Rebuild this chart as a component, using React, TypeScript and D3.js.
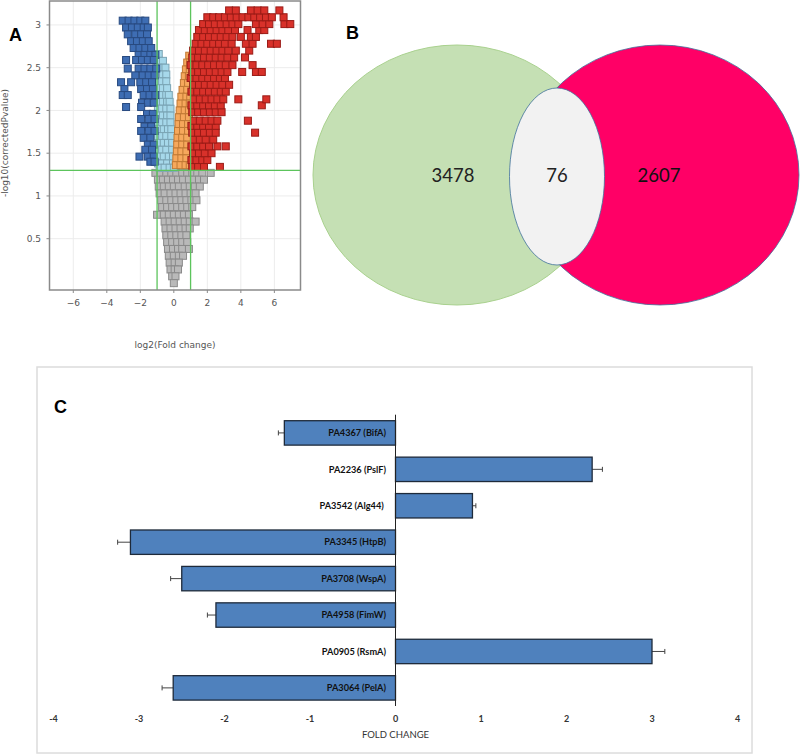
import React from "react";
import * as d3 from "d3";

// ---------- Panel A: volcano plot (hand-read rows: [-log10 p, log2 FC values]) ----------
const grayRows: [number, number[]][] = [
  [1.27, [-1.1, -0.8, -0.45, -0.15, 0.15, 0.5, 0.8, 1.1, 1.4, 1.7, 2.2]],
  [1.19, [-0.95, -0.65, -0.35, -0.05, 0.25, 0.55, 0.9, 1.2, 1.5, 1.8]],
  [1.11, [-0.9, -0.6, -0.3, 0.0, 0.3, 0.65, 0.95, 1.25, 1.55]],
  [1.03, [-0.85, -0.55, -0.2, 0.1, 0.4, 0.7, 1.0, 1.3]],
  [0.95, [-0.75, -0.45, -0.15, 0.15, 0.45, 0.75, 1.05, 1.35]],
  [0.87, [-0.7, -0.4, -0.1, 0.2, 0.5, 0.8, 1.1]],
  [0.78, [-1.0, -0.6, -0.3, 0.0, 0.3, 0.6, 0.9]],
  [0.7, [-0.55, -0.25, 0.05, 0.35, 0.65, 0.95, 1.3]],
  [0.62, [-0.5, -0.2, 0.1, 0.4, 0.7, 0.95]],
  [0.54, [-0.45, -0.15, 0.15, 0.45, 0.75]],
  [0.46, [-0.4, -0.1, 0.2, 0.5, 0.8]],
  [0.38, [-0.35, -0.05, 0.25, 0.5, 0.9]],
  [0.3, [-0.3, 0.0, 0.3, 0.55]],
  [0.22, [-0.25, 0.05, 0.3]],
  [0.14, [-0.2, 0.05, 0.25]],
  [0.06, [-0.1, 0.1]],
  [-0.02, [0.0]],
];

const lightBlueRows: [number, number[]][] = [
  [2.66, [-0.9]],
  [2.58, [-0.9, -0.65]],
  [2.5, [-0.95, -0.7, -0.5]],
  [2.42, [-0.9, -0.65, -0.45]],
  [2.34, [-0.95, -0.7, -0.45]],
  [2.26, [-0.9, -0.65, -0.4]],
  [2.18, [-0.95, -0.7, -0.45, -0.3]],
  [2.1, [-0.9, -0.65, -0.4, -0.25]],
  [2.02, [-0.95, -0.7, -0.45, -0.2]],
  [1.94, [-0.9, -0.65, -0.4, -0.2]],
  [1.86, [-0.95, -0.7, -0.45, -0.2]],
  [1.78, [-0.9, -0.6, -0.35, -0.15]],
  [1.7, [-0.95, -0.7, -0.45, -0.15]],
  [1.62, [-0.9, -0.6, -0.35, -0.1]],
  [1.54, [-0.95, -0.7, -0.45, -0.1]],
  [1.46, [-0.9, -0.6, -0.3, -0.05]],
  [1.38, [-0.95, -0.7, -0.4, -0.05]],
  [1.33, [-0.85, -0.55, -0.25, 0.0]],
];

const orangeRows: [number, number[]][] = [
  [2.64, [0.92]],
  [2.56, [0.8, 0.98]],
  [2.48, [0.72, 0.95]],
  [2.4, [0.65, 0.9]],
  [2.32, [0.6, 0.85]],
  [2.24, [0.52, 0.8]],
  [2.16, [0.45, 0.75, 0.98]],
  [2.08, [0.4, 0.7, 0.95]],
  [2.0, [0.35, 0.65, 0.9]],
  [1.92, [0.3, 0.6, 0.9]],
  [1.84, [0.28, 0.55, 0.85]],
  [1.76, [0.25, 0.55, 0.85]],
  [1.68, [0.22, 0.5, 0.8]],
  [1.6, [0.2, 0.5, 0.8]],
  [1.52, [0.18, 0.45, 0.75]],
  [1.44, [0.15, 0.45, 0.75]],
  [1.36, [0.12, 0.4, 0.7, 0.95]],
];

const darkBlueRows: [number, number[]][] = [
  [3.05, [-3.05, -2.7, -2.35, -2.0, -1.7]],
  [2.97, [-2.85, -2.5, -2.15, -1.8, -1.55]],
  [2.89, [-2.75, -2.3, -1.95, -1.6]],
  [2.81, [-2.55, -2.2, -1.85, -1.5]],
  [2.73, [-2.4, -2.05, -1.7, -1.35]],
  [2.65, [-2.1, -1.75, -1.4, -1.1]],
  [2.59, [-2.85, -2.25, -1.9, -1.55, -1.2]],
  [2.49, [-2.75, -2.1, -1.75, -1.4, -1.05]],
  [2.41, [-2.3, -1.85, -1.5, -1.15]],
  [2.33, [-3.15, -2.55, -2.0, -1.65, -1.3]],
  [2.25, [-2.95, -1.95, -1.6, -1.25]],
  [2.18, [-3.05, -2.75, -1.8, -1.45, -1.1]],
  [2.09, [-1.9, -1.55, -1.2]],
  [2.04, [-2.85, -1.95]],
  [1.96, [-1.6, -1.25]],
  [1.9, [-1.95, -1.5, -1.15]],
  [1.81, [-1.75, -1.35]],
  [1.76, [-1.95, -1.5, -1.15]],
  [1.68, [-1.8, -1.4]],
  [1.6, [-1.55, -1.2]],
  [1.54, [-1.7, -1.3]],
  [1.46, [-2.05, -1.55, -1.2]],
  [1.4, [-1.4, -1.15]],
];

const redRows: [number, number[]][] = [
  [1.34, [1.1, 1.45, 1.8, 2.75]],
  [1.42, [1.05, 1.35, 1.7, 2.0]],
  [1.5, [1.15, 1.5, 1.85, 2.25]],
  [1.58, [1.05, 1.4, 1.75, 2.1, 2.6, 3.1]],
  [1.66, [1.2, 1.55, 1.9, 2.35]],
  [1.74, [1.1, 1.45, 1.8, 2.15, 2.5, 4.85]],
  [1.82, [1.05, 1.4, 1.75, 2.1, 2.5]],
  [1.88, [1.2, 1.55, 1.9, 2.25, 2.6, 4.42]],
  [1.98, [1.1, 1.45, 1.8, 2.15, 2.5, 2.85]],
  [2.06, [1.05, 1.4, 1.75, 2.1, 2.45, 2.8, 5.25]],
  [2.13, [1.2, 1.55, 1.9, 2.25, 2.6, 2.95, 3.85, 5.52]],
  [2.22, [1.05, 1.4, 1.75, 2.1, 2.45, 2.8, 3.1]],
  [2.3, [1.15, 1.5, 1.85, 2.2, 2.55, 2.9, 3.3]],
  [2.38, [1.0, 1.35, 1.7, 2.05, 2.4, 2.75, 3.05]],
  [2.45, [1.1, 1.45, 1.8, 2.15, 2.5, 2.85, 3.2, 4.08, 4.9, 5.25]],
  [2.53, [1.0, 1.35, 1.7, 2.05, 2.4, 2.75, 3.1, 3.5, 4.7]],
  [2.62, [1.1, 1.45, 1.8, 2.15, 2.5, 2.85, 3.2, 3.6, 4.25]],
  [2.7, [1.15, 1.5, 1.85, 2.2, 2.55, 2.9, 3.25, 3.7, 4.5]],
  [2.78, [1.3, 1.65, 2.0, 2.35, 2.7, 3.05, 3.45, 4.3, 4.7, 5.8, 6.15]],
  [2.86, [1.4, 1.75, 2.1, 2.45, 2.8, 3.15, 3.5, 4.0, 4.6, 4.9]],
  [2.94, [1.5, 1.85, 2.2, 2.55, 2.9, 3.25, 3.65, 4.4, 5.1, 5.4]],
  [3.01, [1.75, 2.1, 2.45, 2.8, 3.15, 3.5, 3.85, 4.9, 5.3, 5.7, 6.6, 6.95]],
  [3.09, [2.0, 2.35, 2.7, 3.05, 3.4, 3.75, 4.1, 4.45, 4.8, 5.15, 5.5, 5.85, 6.55]],
  [3.17, [3.3, 3.7, 4.6, 5.0, 5.4, 6.3]],
];

const xTicksA = [-6, -4, -2, 0, 2, 4, 6];
const yTicksA = [0.5, 1, 1.5, 2, 2.5, 3];
const foldThreshold = [-1, 1];
const pThreshold = 1.3;

// ---------- Panel B: Venn counts ----------
const vennCounts = [3478, 76, 2607];

// ---------- Panel C: qPCR fold change ----------
const genes = [
  "PA4367 (BifA)",
  "PA2236 (PslF)",
  "PA3542 (Alg44) ",
  "PA3345 (HtpB)",
  "PA3708 (WspA)",
  "PA4958 (FimW)",
  "PA0905 (RsmA)",
  "PA3064 (PelA)",
];
const foldChange = [-1.3, 2.3, 0.9, -3.1, -2.5, -2.1, 3.0, -2.6];
const foldError = [0.07, 0.12, 0.04, 0.15, 0.13, 0.1, 0.15, 0.13];
const xTicksC = [-4, -3, -2, -1, 0, 1, 2, 3, 4];

const flatten = (rows: [number, number[]][]) =>
  rows.flatMap(([p, xs]) => xs.map((x) => ({ x, p })));

const groups = [
  { pts: flatten(grayRows), fill: "#b9b9b9", stroke: "#8a8a8a" },
  { pts: flatten(lightBlueRows), fill: "#a6d8ea", stroke: "#7aa4b4" },
  { pts: flatten(orangeRows), fill: "#f6a85c", stroke: "#c07934" },
  { pts: flatten(darkBlueRows), fill: "#3e6db3", stroke: "#284a80" },
  { pts: flatten(redRows), fill: "#d8312a", stroke: "#9a1b16" },
];

export default function App() {
  // Panel A scales
  const xA = d3.scaleLinear().domain([-7.42, 7.56]).range([49.5, 300.5]);
  const yA = d3.scaleLinear().domain([-0.1, 3.28]).range([290, 1]);
  const sq = 7;
  const tickFont = "'DejaVu Sans', sans-serif";

  // Panel C scales
  const xC = d3.scaleLinear().domain([-4, 4]).range([53.5, 737.5]);
  const yC = d3
    .scaleBand<string>()
    .domain(genes)
    .range([414.7, 706.1])
    .paddingInner(0.33)
    .paddingOuter(0.165);
  const bw = yC.bandwidth();

  return (
    <svg
      width={800}
      height={755}
      style={{ position: "absolute", left: 0, top: 0, background: "#fff" }}
    >
      {/* ================= Panel A ================= */}
      <g>
        {xTicksA.map((t) => (
          <line key={"gx" + t} x1={xA(t)} x2={xA(t)} y1={1} y2={290} stroke="#ececec" strokeWidth={1} />
        ))}
        {yTicksA.map((t) => (
          <line key={"gy" + t} x1={49.5} x2={300.5} y1={yA(t)} y2={yA(t)} stroke="#ececec" strokeWidth={1} />
        ))}
        {groups.map((g, gi) =>
          g.pts.map((d, i) => (
            <rect
              key={gi + "-" + i}
              x={xA(d.x) - sq / 2}
              y={yA(d.p) - sq / 2}
              width={sq}
              height={sq}
              fill={g.fill}
              stroke={g.stroke}
              strokeWidth={1}
            />
          ))
        )}
        {foldThreshold.map((t) => (
          <line key={"ft" + t} x1={xA(t)} x2={xA(t)} y1={1} y2={290} stroke="#5cc45c" strokeWidth={1.3} />
        ))}
        <line x1={49.5} x2={300.5} y1={yA(pThreshold)} y2={yA(pThreshold)} stroke="#5cc45c" strokeWidth={1.3} />
        <rect x={49.5} y={1} width={251} height={289} fill="none" stroke="#8a8a8a" strokeWidth={1.5} />
        {xTicksA.map((t) => (
          <g key={"xt" + t}>
            <line x1={xA(t)} x2={xA(t)} y1={290} y2={293} stroke="#8a8a8a" />
            <text x={xA(t)} y={306} textAnchor="middle" fontSize={9} fill="#555" fontFamily={tickFont}>
              {t < 0 ? "\u2212" + Math.abs(t) : t}
            </text>
          </g>
        ))}
        {yTicksA.map((t) => (
          <g key={"yt" + t}>
            <line x1={46.5} x2={49.5} y1={yA(t)} y2={yA(t)} stroke="#8a8a8a" />
            <text x={41} y={yA(t) + 3.2} textAnchor="end" fontSize={9} fill="#555" fontFamily={tickFont}>
              {t}
            </text>
          </g>
        ))}
        <text x={175} y={348} textAnchor="middle" fontSize={9} fill="#555" fontFamily={tickFont}>
          log2(Fold change)
        </text>
        <text
          transform="translate(7.5,143) rotate(-90)"
          textAnchor="middle"
          fontSize={9}
          fill="#555"
          fontFamily={tickFont}
        >
          -log10(correctedPvalue)
        </text>
        <text x={9} y={41} fontSize={18} fontWeight="bold" fontFamily="'Liberation Sans', Arial, sans-serif">
          A
        </text>
      </g>

      {/* ================= Panel B ================= */}
      <g>
        <ellipse cx={457} cy={175} rx={144} ry={130} fill="#c5e0b4" stroke="#a9d18e" strokeWidth={1} />
        <ellipse cx={660} cy={175} rx={139} ry={130} fill="#ff0066" stroke="#41719c" strokeWidth={0.8} />
        <ellipse cx={557} cy={176.5} rx={47.5} ry={88.5} fill="#f2f2f2" stroke="#41719c" strokeWidth={0.8} />
        <text x={453} y={182} textAnchor="middle" fontSize={18.5} fill="#222" fontFamily="Lato, sans-serif">
          {vennCounts[0]}
        </text>
        <text x={557} y={182} textAnchor="middle" fontSize={18.5} fill="#222" fontFamily="Lato, sans-serif">
          {vennCounts[1]}
        </text>
        <text x={659} y={182} textAnchor="middle" fontSize={18.5} fill="#111" fontFamily="Lato, sans-serif">
          {vennCounts[2]}
        </text>
        <text x={346} y={39} fontSize={18} fontWeight="bold" fontFamily="'Liberation Sans', Arial, sans-serif">
          B
        </text>
      </g>

      {/* ================= Panel C ================= */}
      <g>
        <rect x={37} y={367} width={715} height={386} fill="none" stroke="#dcdcdc" strokeWidth={1.5} />
        <text x={54} y={413} fontSize={18} fontWeight="bold" fontFamily="'Liberation Sans', Arial, sans-serif">
          C
        </text>
        {genes.map((g, i) => {
          const v = foldChange[i];
          const e = foldError[i];
          const y0 = yC(g)!;
          const x0 = xC(Math.min(0, v));
          const x1 = xC(Math.max(0, v));
          const xe = xC(v + (v < 0 ? -e : e));
          const yc = y0 + bw / 2;
          return (
            <g key={g}>
              <line x1={xC(v)} x2={xe} y1={yc} y2={yc} stroke="#444" strokeWidth={1} />
              <line x1={xe} x2={xe} y1={yc - 2.5} y2={yc + 2.5} stroke="#444" strokeWidth={1} />
              <rect x={x0} y={y0} width={x1 - x0} height={bw} fill="#4f81bd" stroke="#1e2a3a" strokeWidth={1.3} />
            </g>
          );
        })}
        <line x1={xC(0)} x2={xC(0)} y1={414.7} y2={706} stroke="#222" strokeWidth={1} />
        {genes.map((g) => (
          <text
            key={"l" + g}
            x={xC(0) - 9.5}
            y={yC(g)! + bw / 2 + 3.3}
            textAnchor="end"
            fontSize={9.2}
            fontWeight="bold"
            fill="#111"
            fontFamily="Lato, sans-serif"
            style={{ whiteSpace: "pre" }}
          >
            {g}
          </text>
        ))}
        {xTicksC.map((t) => (
          <text
            key={"c" + t}
            x={xC(t)}
            y={721.5}
            textAnchor="middle"
            fontSize={9}
            fontWeight="bold"
            fill="#333"
            fontFamily="Lato, sans-serif"
          >
            {t}
          </text>
        ))}
        <text x={xC(0)} y={737.5} textAnchor="middle" fontSize={9.5} fill="#333" fontFamily="Lato, sans-serif">
          FOLD CHANGE
        </text>
      </g>
    </svg>
  );
}
